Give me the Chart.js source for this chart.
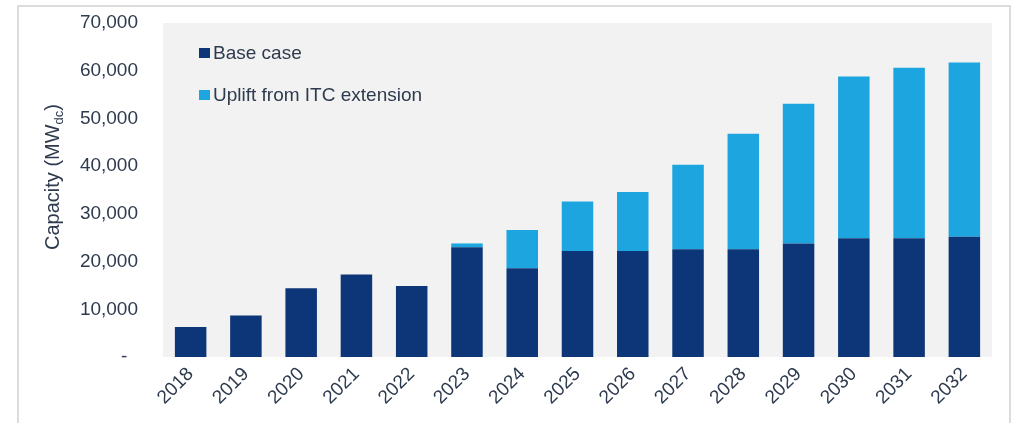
<!DOCTYPE html>
<html>
<head>
<meta charset="utf-8">
<script src="https://cdn.jsdelivr.net/npm/chart.js@4"></script>
<style>
    body { margin: 0; background: #fff; }
    #wrap { position: relative; width: 1017px; height: 423px; overflow: hidden; }
    #frame { position: absolute; left: 17px; top: 5px; width: 990px; height: 440px; border: 2px solid #dcdcdc; }
    #chart { position: absolute; left: 0; top: 0; }
</style>
</head>
<body>
<div id="wrap">
    <div id="frame"></div>
    <canvas id="chart" width="1017" height="423"></canvas>
</div>
<script>
const years = ['2018', '2019', '2020', '2021', '2022', '2023', '2024', '2025', '2026', '2027', '2028', '2029', '2030', '2031', '2032'];
const baseCase = [6300, 8700, 14400, 17300, 14900, 23000, 18600, 22200, 22200, 22600, 22600, 23800, 24900, 24900, 25200];
const itcUplift = [0, 0, 0, 0, 0, 800, 8000, 10400, 12400, 17700, 24200, 29300, 33900, 35700, 36500];
const yTicks = [0, 10000, 20000, 30000, 40000, 50000, 60000, 70000];

const FONT = '"Liberation Sans", Arial, sans-serif';
const TEXT = '#2e3a4d';

function formatTick(v) {
    if (v === 0) {
        return '-  ';
    }
    return new Intl.NumberFormat('en-US').format(v);
}

// gray plot background
const plotBackground = {
    id: 'plotBackground',
    beforeDraw(chart) {
        const { ctx, chartArea } = chart;
        ctx.save();
        ctx.fillStyle = '#f2f2f2';
        ctx.fillRect(chartArea.left, chartArea.top, chartArea.right - chartArea.left, chartArea.bottom - chartArea.top);
        ctx.restore();
    },
};

// legend drawn inside the plot, top-left
const insideLegend = {
    id: 'insideLegend',
    afterDraw(chart) {
        const { ctx, chartArea } = chart;
        ctx.save();
        ctx.font = `19px ${FONT}`;
        ctx.textBaseline = 'middle';
        chart.data.datasets.forEach((ds, i) => {
            const x = chartArea.left + 36;
            const y = chartArea.top + 30 + i * 42;
            ctx.fillStyle = ds.backgroundColor;
            ctx.fillRect(x, y - 5, 11, 10);
            ctx.fillStyle = TEXT;
            ctx.textAlign = 'left';
            ctx.fillText(ds.label, x + 14, y + 1);
        });
        ctx.restore();
    },
};

// y axis title with subscript
const axisTitle = {
    id: 'axisTitle',
    afterDraw(chart) {
        const { ctx } = chart;
        const main = 'Capacity (MW';
        const sub = 'dc';
        const end = ')';
        ctx.save();
        ctx.fillStyle = TEXT;
        ctx.textBaseline = 'alphabetic';
        ctx.font = `20px ${FONT}`;
        const wMain = ctx.measureText(main).width;
        const wEnd = ctx.measureText(end).width;
        ctx.font = `13px ${FONT}`;
        const wSub = ctx.measureText(sub).width;
        const total = wMain + wSub + wEnd;
        ctx.translate(59, 177);
        ctx.rotate(-Math.PI / 2);
        let x = -total / 2;
        ctx.textAlign = 'left';
        ctx.font = `20px ${FONT}`;
        ctx.fillText(main, x, 0);
        x += wMain;
        ctx.font = `13px ${FONT}`;
        ctx.fillText(sub, x, 4);
        x += wSub;
        ctx.font = `20px ${FONT}`;
        ctx.fillText(end, x, 0);
        ctx.restore();
    },
};

new Chart(document.getElementById('chart').getContext('2d'), {
    type: 'bar',
    data: {
        labels: years,
        datasets: [
            {
                label: 'Base case',
                data: baseCase,
                backgroundColor: '#0c3677',
                borderWidth: 0,
                barPercentage: 0.57,
                categoryPercentage: 1,
            },
            {
                label: 'Uplift from ITC extension',
                data: itcUplift,
                backgroundColor: '#1ca5df',
                borderWidth: 0,
                barPercentage: 0.57,
                categoryPercentage: 1,
            },
        ],
    },
    options: {
        responsive: false,
        animation: false,
        layout: { autoPadding: false, padding: { top: 23, right: 25, bottom: 0, left: 0 } },
        plugins: {
            legend: { display: false },
            tooltip: { enabled: false },
        },
        scales: {
            x: {
                stacked: true,
                grid: { display: false, drawTicks: false },
                border: { display: false },
                afterFit: (scale) => { scale.height = 66; },
                ticks: {
                    color: TEXT,
                    font: { family: FONT, size: 19 },
                    minRotation: 45,
                    maxRotation: 45,
                    padding: 6,
                    autoSkip: false,
                },
            },
            y: {
                stacked: true,
                min: 0,
                max: 70000,
                grid: { display: false, drawTicks: false },
                border: { display: false },
                afterFit: (scale) => {
                    scale.width = 163;
                    scale.paddingTop = 0;
                    scale.paddingBottom = 0;
                },
                afterBuildTicks: (scale) => {
                    scale.ticks = yTicks.map((v) => ({ value: v }));
                },
                ticks: {
                    color: TEXT,
                    font: { family: FONT, size: 19 },
                    padding: 25,
                    callback: (v) => formatTick(Number(v)),
                },
            },
        },
    },
    plugins: [plotBackground, insideLegend, axisTitle],
});
</script>
</body>
</html>
